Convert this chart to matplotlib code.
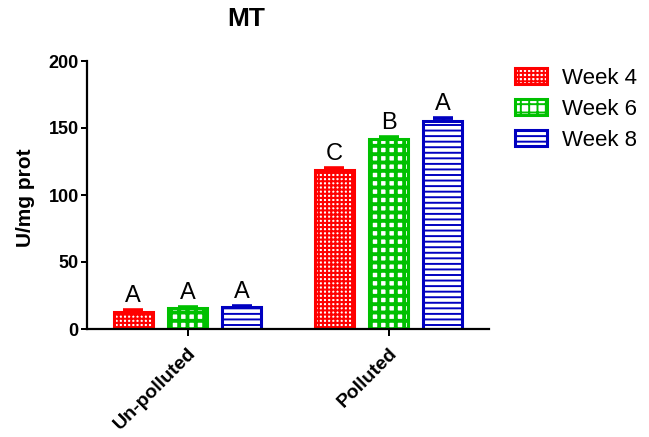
import numpy as np
import matplotlib
matplotlib.use("Agg")
import matplotlib.pyplot as plt

plt.rcParams['font.family'] = ['Liberation Sans', 'DejaVu Sans']

categories = ["Un-polluted", "Polluted"]
series = ["Week 4", "Week 6", "Week 8"]
values = {
    "Week 4": [13, 119],
    "Week 6": [15.5, 142],
    "Week 8": [16.5, 155],
}
errors = {
    "Week 4": [1.0, 1.0],
    "Week 6": [1.0, 1.5],
    "Week 8": [1.0, 2.5],
}
letters = {
    "Week 4": ["A", "C"],
    "Week 6": ["A", "B"],
    "Week 8": ["A", "A"],
}
colors = {"Week 4": "#ff0000", "Week 6": "#00c000", "Week 8": "#0000c0"}
hatches = {"Week 4": "++++", "Week 6": "++", "Week 8": "---"}
hatch_lw = {"Week 4": 1.5, "Week 6": 2.8, "Week 8": 1.4}
yticks = [0, 50, 100, 150, 200]

fig = plt.figure(figsize=(6.49, 4.37), dpi=100)
ax = fig.add_axes([87/649, 1-329/437, (489-87)/649, (329-61)/437])

x = np.arange(len(categories))
step = 0.271
width = 0.194
for i, s in enumerate(series):
    plt.rcParams['hatch.linewidth'] = hatch_lw[s]
    pos = x + (i - 1) * step
    bars = ax.bar(pos, values[s], width, facecolor='white', edgecolor=colors[s],
                  hatch=hatches[s], linewidth=2.2, label=s, zorder=2)
    for b in bars:
        if hasattr(b, 'set_hatch_linewidth'):
            b.set_hatch_linewidth(hatch_lw[s])
    ax.errorbar(pos, values[s], yerr=[np.zeros(len(pos)), errors[s]], fmt='none',
                ecolor=colors[s], elinewidth=2.4, capsize=7.2, capthick=2.6, zorder=3)
    for p, v, e, t in zip(pos, values[s], errors[s], letters[s]):
        ax.annotate(t, (p, v + e), xytext=(0, 2), textcoords='offset points',
                    ha='center', va='bottom', fontsize=17)

ax.set_xlim(-0.5, 1.5)
ax.set_ylim(0, 200)
ax.set_yticks(yticks)
ax.set_yticklabels([str(t) for t in yticks], fontsize=13, fontweight='bold')
ax.set_xticks(x)
ax.set_xticklabels(categories, rotation=45, ha='right', va='top',
                   rotation_mode='anchor', fontsize=14, fontweight='bold')
ax.tick_params(axis='y', length=4, width=1.44, pad=2)
ax.tick_params(axis='x', length=5, width=1.44, pad=6)
for sp in ['top', 'right']:
    ax.spines[sp].set_visible(False)
for sp in ['left', 'bottom']:
    ax.spines[sp].set_linewidth(1.6)

ax.set_ylabel("U/mg prot", fontsize=15, fontweight='bold')
ax.yaxis.set_label_coords(-0.129, 0.49)

fig.text(246/649, 1-19/437, "MT", ha='center', va='center', fontsize=19, fontweight='bold')

ax.legend(loc='upper left', bbox_to_anchor=(515/649, 1-68/437), bbox_transform=fig.transFigure,
          frameon=False, fontsize=16, handlelength=1.45, handleheight=0.75,
          handletextpad=0.65, labelspacing=0.45, borderpad=0, borderaxespad=0)

fig.savefig("out.png", dpi=100)
